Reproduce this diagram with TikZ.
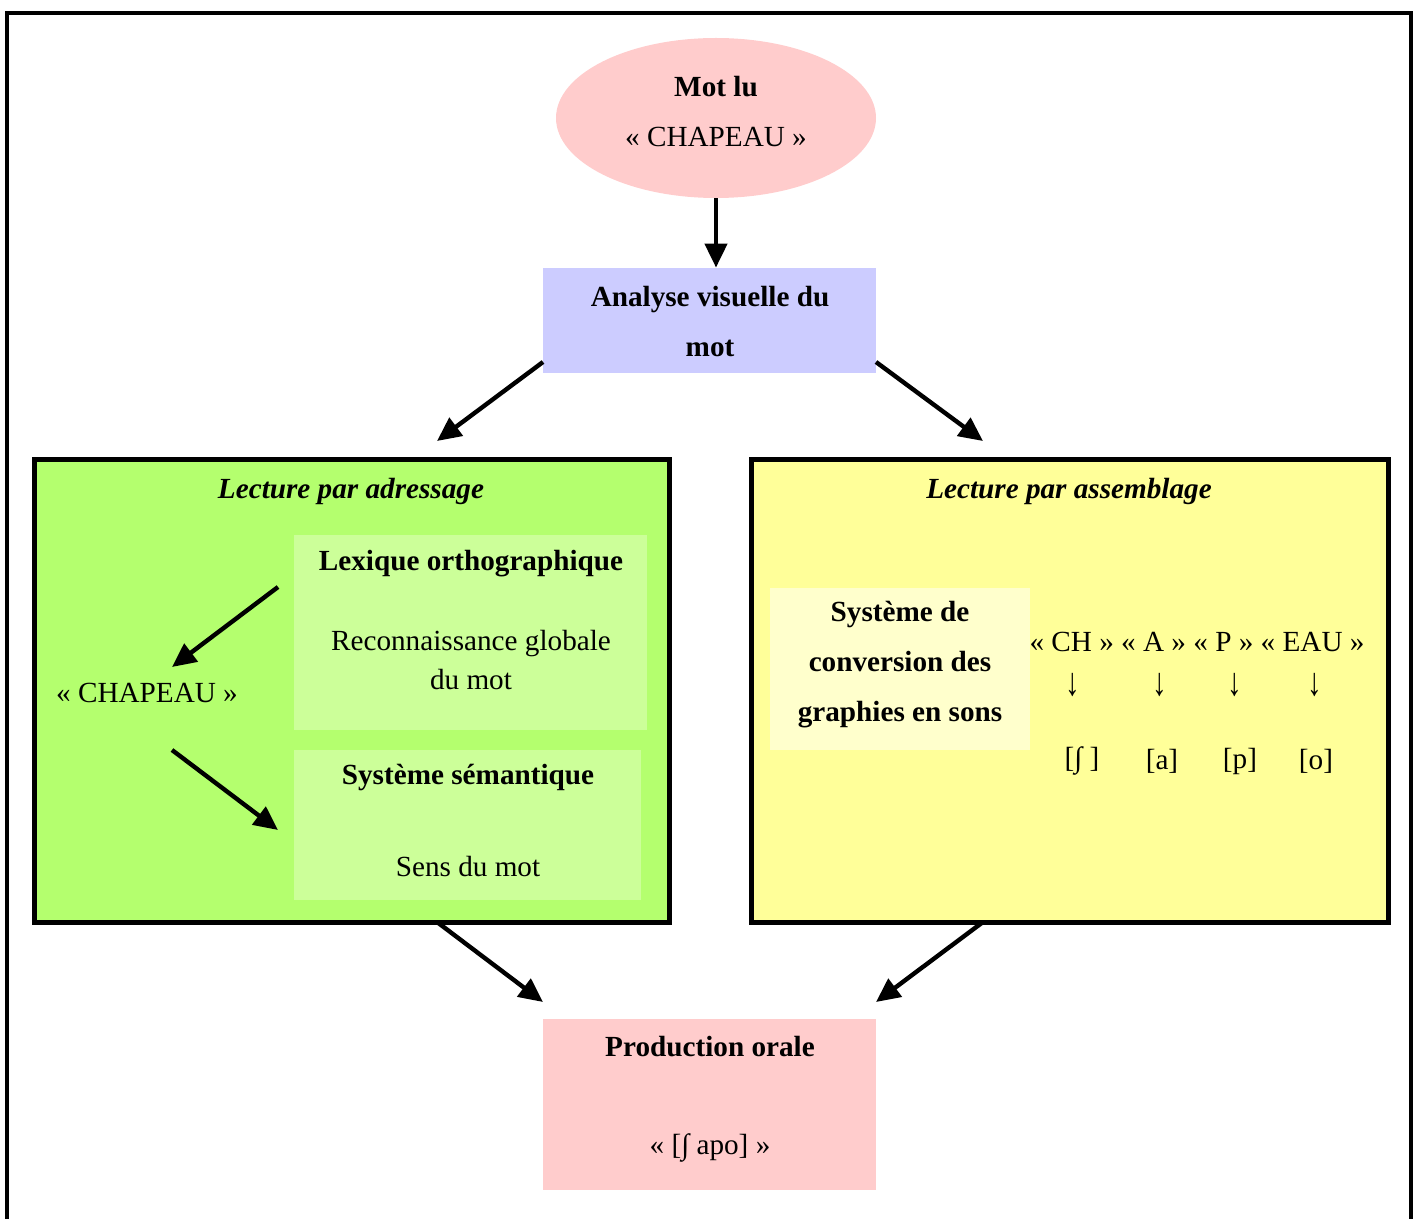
\documentclass[tikz,border=0pt]{standalone}
\usepackage{fontspec}
\setmainfont{Liberation Serif}
\usetikzlibrary{arrows.meta,shapes.geometric,fit}
\definecolor{pinkc}{HTML}{FFCCCC}
\definecolor{lavc}{HTML}{CCCCFF}
\definecolor{greenc}{HTML}{B4FF6E}
\definecolor{lgreenc}{HTML}{CCFF99}
\definecolor{yellowc}{HTML}{FFFF99}
\definecolor{lyellowc}{HTML}{FFFFCC}
\tikzset{
  txt/.style={inner sep=0pt, font=\fontsize{14.6}{25}\selectfont, align=center},
  btxt/.style={txt, font=\fontsize{14.6}{25}\selectfont\bfseries},
  ititle/.style={txt, font=\fontsize{14.6}{25}\selectfont\bfseries\itshape},
  darr/.style={inner sep=0pt, font=\fontsize{14.6}{25}\selectfont, yscale=1.35},
  area/.style={inner sep=0pt, draw=none},
  bigbox/.style={inner sep=0pt, draw=black, line width=2.5pt},
  arr/.style={line width=2.2pt, -{Triangle[length=12pt,width=11pt]}},
}
\begin{document}
\begin{tikzpicture}[x=0.5pt,y=-0.5pt]
\useasboundingbox (0,0) rectangle (1419,1219);
\clip (0,0) rectangle (1419,1219);
% outer frame
\draw[line width=2pt] (7,13) rectangle (1411,1260);

% top ellipse
\node[ellipse, fill=pinkc, minimum width=160pt, minimum height=80pt, inner sep=0pt] (mot) at (716,118) {};
\node[btxt] (motlu) at (716,87) {Mot lu};
\node[txt] (motchap) at (716,137) {« CHAPEAU »};

% analyse box
\node[area, fill=lavc, fit={(543,268)(876,373)}] (ana) {};
\node[btxt] (anat) at (710,322) {Analyse visuelle du\\mot};

% green box
\node[bigbox, fill=greenc, fit={(34,460)(669,922)}] (adr) {};
\node[ititle] (adrt) at (351,491) {Lecture par adressage};
\node[area, fill=lgreenc, fit={(294,535)(647,730)}] (lex) {};
\node[btxt] (lext) at (471,564) {Lexique orthographique};
\node[txt, font=\fontsize{14.6}{19.5}\selectfont] (lexd) at (471,660) {Reconnaissance globale\\du mot};
\node[area, fill=lgreenc, fit={(294,750)(641,900)}] (sem) {};
\node[btxt] (semt) at (468,778) {Système sémantique};
\node[txt] (semd) at (468,867) {Sens du mot};
\node[txt] (chap) at (147,693) {« CHAPEAU »};

% yellow box
\node[bigbox, fill=yellowc, fit={(751,460)(1388,922)}] (ass) {};
\node[ititle] (asst) at (1069,491) {Lecture par assemblage};
\node[area, fill=lyellowc, fit={(770,588)(1030,750)}] (conv) {};
\node[btxt] (convt) at (900,665) {Système de\\conversion des\\graphies en sons};
\node[txt] (graph) at (1197,642) {« CH » « A » « P » « EAU »};
\node[darr] (d1) at (1073,685) {↓};
\node[darr] (d2) at (1160,685) {↓};
\node[darr] (d3) at (1235,685) {↓};
\node[darr] (d4) at (1315,685) {↓};
\node[txt] (p1) at (1082,761) {[∫ ]};
\node[txt] (p2) at (1162,761) {[a]};
\node[txt] (p3) at (1240,761) {[p]};
\node[txt] (p4) at (1316,761) {[o]};

% production box
\node[area, fill=pinkc, fit={(543,1019)(876,1190)}] (prod) {};
\node[btxt] (prodt) at (710,1047) {Production orale};
\node[txt] (prodd) at (710,1148) {« [∫ apo] »};

% connector endpoints
\coordinate (a1s) at (543,362);
\coordinate (a1e) at (437,441);
\coordinate (a2s) at (876,362);
\coordinate (a2e) at (983,441);
\coordinate (l1s) at (278,587);
\coordinate (l1e) at (172,667);
\coordinate (l2s) at (172,750);
\coordinate (l2e) at (278,830);
\coordinate (b1s) at (437,922);
\coordinate (b1e) at (543,1002);
\coordinate (b2s) at (983,922);
\coordinate (b2e) at (876,1002);

\draw[arr] (mot.south) -- (ana.north -| mot.south);
\draw[arr] (a1s) -- (a1e);
\draw[arr] (a2s) -- (a2e);
\draw[arr] (l1s) -- (l1e);
\draw[arr] (l2s) -- (l2e);
\draw[arr] (b1s) -- (b1e);
\draw[arr] (b2s) -- (b2e);
\end{tikzpicture}
\end{document}
